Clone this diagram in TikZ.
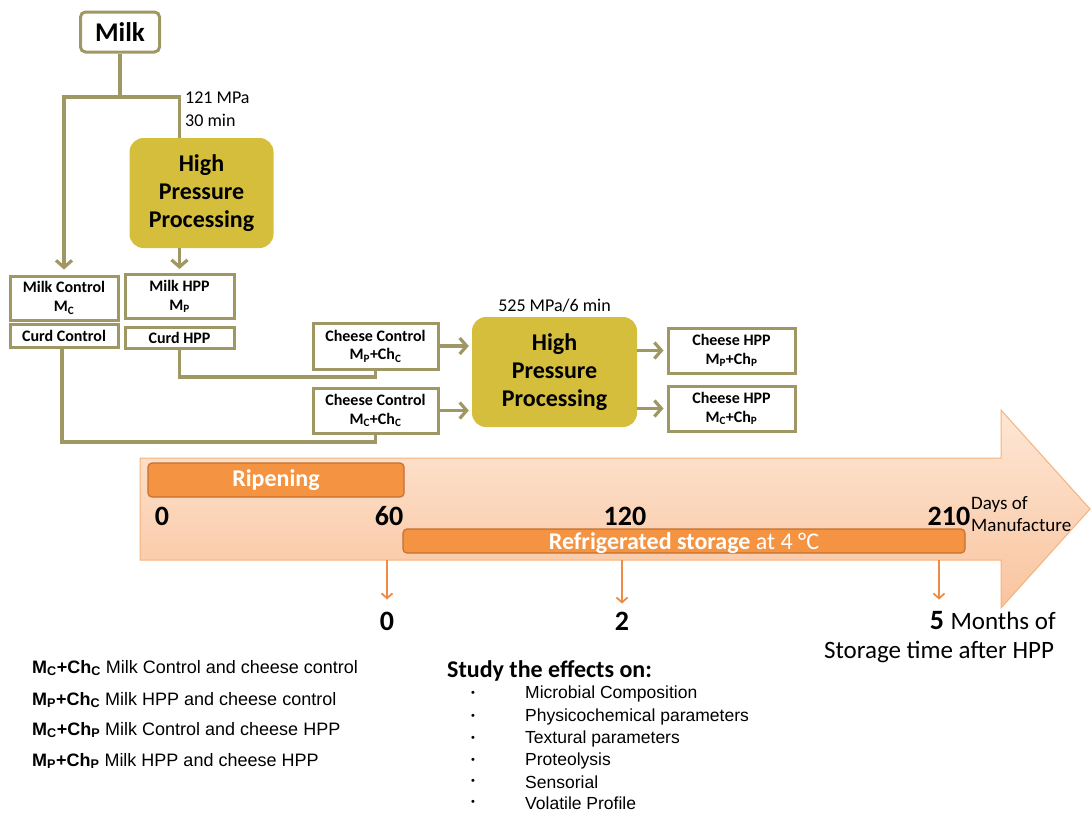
\documentclass[tikz,border=0pt]{standalone}
\usepackage{fontspec}
\setmainfont{Carlito}
\newfontfamily\arialfont{Liberation Sans}
\usetikzlibrary{arrows.meta,positioning}

\definecolor{boxline}{RGB}{160,152,100}
\definecolor{hppgold}{RGB}{213,190,60}
\definecolor{arrowtop}{RGB}{253,231,214}
\definecolor{arrowbot}{RGB}{249,196,158}
\definecolor{arrowline}{RGB}{246,178,124}
\definecolor{barfill}{RGB}{244,148,66}
\definecolor{barline}{RGB}{196,112,48}
\definecolor{tickline}{RGB}{238,140,70}

\tikzset{
  box/.style={draw=boxline, line width=3pt, fill=white, align=center,
    inner sep=0pt, font=\bfseries\fontsize{16}{19}\selectfont},
  hpp/.style={fill=hppgold, rounded corners=14pt, align=center,
    minimum width=145, minimum height=110,
    font=\bfseries\fontsize{24}{28}\selectfont},
  link/.style={draw=boxline, line width=3.2pt},
  go/.style={link, -{Straight Barb[length=7pt,width=16pt]}},
  bar/.style={fill=barfill, draw=barline, line width=1.2pt, rounded corners=4pt,
    text=white, inner sep=0pt},
  day/.style={font=\bfseries\fontsize{28}{30}\selectfont, inner sep=0pt},
  tick/.style={draw=tickline, line width=1.8pt, -{Straight Barb[length=5pt,width=11pt]}},
  legend/.style={font=\arialfont\fontsize{18}{20}\selectfont, inner sep=0pt, anchor=west},
  item/.style={font=\arialfont\fontsize{17.5}{20}\selectfont, inner sep=0pt, anchor=west},
  dot/.style={inner sep=0pt, font=\arialfont\fontsize{11}{12}\selectfont},
}

\begin{document}
\begin{tikzpicture}[x=1pt, y=-1pt]
    \useasboundingbox (0,0) rectangle (1091,812);
    % milk and the first treatment
    \node[box, rounded corners=5pt, minimum width=79, minimum height=40,
        font=\bfseries\fontsize{27}{30}\selectfont] (milk) at (120,32) {Milk};
    \coordinate (split) at (120,97);% branch point
    \node[hpp, minimum width=144] (hpp1) at (201.5,193) {High\\Pressure\\Processing};
    \node[anchor=north west, align=left, inner sep=0pt,
        font=\fontsize{18}{23}\selectfont] (p1) at (185,92) {121 MPa\\30 min};
    \node[box, minimum width=108, minimum height=44] (mc) at (64,298) {Milk Control\\M\textsubscript{C}};
    \node[box, minimum width=108, minimum height=23] (cc) at (64,335.5) {Curd Control};
    \node[box, minimum width=109, minimum height=44] (mp) at (179.5,296.5) {Milk HPP\\M\textsubscript{P}};
    \node[box, minimum width=109, minimum height=21] (cp) at (179.5,337.5) {Curd HPP};
    \draw[link] (milk.south) -- (split);
    \draw[go, shorten >=5pt] (split) -| (mc.north);% control branch
    \draw[link] (split) -| (mp.north |- hpp1.north);% to HPP
    \draw[go, shorten >=4pt] (mp.north |- hpp1.south) -- (mp.north);
    % cheese and the second treatment
    \node[box, minimum width=125, minimum height=46,
        font=\bfseries\fontsize{16}{18.5}\selectfont] (chc1) at (375.5,346) {Cheese Control\\M\textsubscript{P}+Ch\textsubscript{C}};
    \node[box, minimum width=125, minimum height=45,
        font=\bfseries\fontsize{16}{18.5}\selectfont] (chc2) at (375.5,410.5) {Cheese Control\\M\textsubscript{C}+Ch\textsubscript{C}};
    \node[hpp, minimum width=165] (hpp2) at (554.5,372) {High\\Pressure\\Processing};
    \node[above=4pt of hpp2, inner sep=0pt, font=\fontsize{18}{20}\selectfont] (p2) {525 MPa/6 min};
    \node[box, minimum width=127, minimum height=45,
        font=\bfseries\fontsize{16}{18.5}\selectfont] (che1) at (731.5,350.5) {Cheese HPP\\M\textsubscript{P}+Ch\textsubscript{P}};
    \node[box, minimum width=127, minimum height=45,
        font=\bfseries\fontsize{16}{18.5}\selectfont] (che2) at (731.5,408.5) {Cheese HPP\\M\textsubscript{C}+Ch\textsubscript{P}};
    \coordinate (j1) at (179.5,377);% corner under curd HPP
    \coordinate (j2) at (62,442);% corner under curd control
    \draw[link] (cp.south) -- (j1) -| (chc1.south);
    \draw[link] (cc.south -| j2) -- (j2) -| (chc2.south);
    \draw[go, shorten >=3pt] (chc1.east) -- (chc1.east -| hpp2.west);
    \draw[go, shorten >=3pt] (chc2.east) -- (chc2.east -| hpp2.west);
    \draw[go, shorten >=3pt] (che1.west -| hpp2.east) -- (che1.west);
    \draw[go, shorten >=3pt] (che2.west -| hpp2.east) -- (che2.west);
    % time arrow
    \shade[top color=arrowtop, bottom color=arrowbot, draw=arrowline, line width=1pt]
        (140,458) -- (1001,458) -- (1001,410) -- (1090,509) -- (1001,608)
        -- (1001,560) -- (140,560) -- cycle;
    \node[bar, minimum width=256, minimum height=34,
        font=\bfseries\fontsize{24}{26}\selectfont] (ripe) at (276,480) {Ripening};
    \node[bar, minimum width=562, minimum height=24, text height=19pt, text depth=3pt,
        font=\fontsize{24}{26}\selectfont] (cold) at (684,541) {\textbf{Refrigerated storage} at 4 °C};
    \node[day] (d0) at (162,516) {0};
    \node[day] (d60) at (389,516) {60};
    \node[day] (d120) at (625,516) {120};
    \node[day] (d210) at (949,516) {210};
    \node[anchor=north west, align=left, inner sep=0pt,
        font=\fontsize{19}{22}\selectfont] (dom) at (971,496) {Days of\\Manufacture};
    % months of storage
    \node[day] (m0) at (387,621) {0};
    \node[day] (m2) at (622,621) {2};
    \node[day] (m5) at (937,621) {5};
    \node[anchor=base west, inner sep=0pt, font=\fontsize{25}{28}\selectfont]
        (mof) at ([xshift=6pt]m5.base east) {Months of};
    \node[inner sep=0pt, font=\fontsize{25}{28}\selectfont] (stor) at (939,652) {Storage time after HPP};
    \coordinate (t0) at (387,560);
    \coordinate (t2) at (622,560);
    \coordinate (t5) at (939,560);
    \draw[tick, shorten >=12pt] (t0) -- (m0.north);
    \draw[tick, shorten >=8pt] (t2) -- (m2.north);
    \draw[tick, shorten >=12pt] (t5) -- (m5.north -| t5);
    % legend
    \node[legend] (lg1) at (32,668) {\textbf{M\textsubscript{C}+Ch\textsubscript{C}} Milk Control and cheese control};
    \node[legend] (lg2) at (32,700) {\textbf{M\textsubscript{P}+Ch\textsubscript{C}} Milk HPP and cheese control};
    \node[legend] (lg3) at (32,730) {\textbf{M\textsubscript{C}+Ch\textsubscript{P}} Milk Control and cheese HPP};
    \node[legend] (lg4) at (32,761) {\textbf{M\textsubscript{P}+Ch\textsubscript{P}} Milk HPP and cheese HPP};
    % study list
    \node[anchor=west, inner sep=0pt, font=\bfseries\fontsize{24}{26}\selectfont]
        (study) at (447,671) {Study the effects on:};
    \node[item] (it1) at (525,694) {Microbial Composition};
    \node[item] (it2) at (525,717) {Physicochemical parameters};
    \node[item] (it3) at (525,739) {Textural parameters};
    \node[item] (it4) at (525,761) {Proteolysis};
    \node[item] (it5) at (525,782) {Sensorial};
    \node[item] (it6) at (525,803) {Volatile Profile};
    \node[dot] (b1) at (473,694) {•};
    \node[dot] (b2) at (473,717) {•};
    \node[dot] (b3) at (473,739) {•};
    \node[dot] (b4) at (473,761) {•};
    \node[dot] (b5) at (473,782) {•};
    \node[dot] (b6) at (473,803) {•};
\end{tikzpicture}
\end{document}
